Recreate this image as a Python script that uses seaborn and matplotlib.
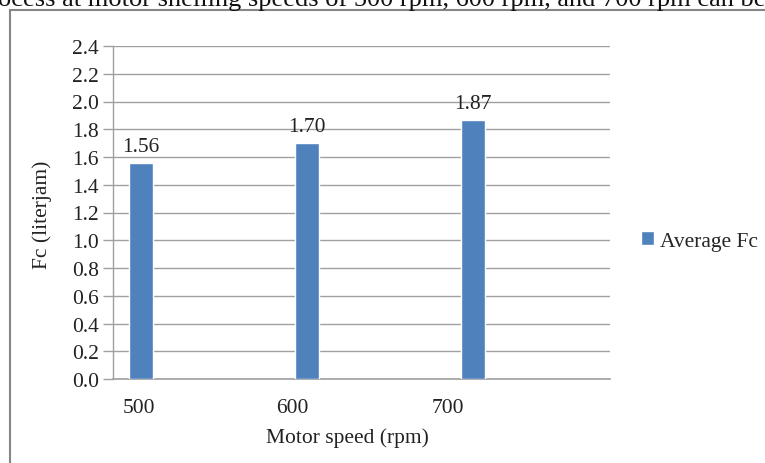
import matplotlib
matplotlib.use("Agg")
import matplotlib.pyplot as plt
import seaborn as sns
import pandas as pd
import numpy as np
from matplotlib.patches import Rectangle

speeds = ["500", "600", "700"]
avg_fc = [1.56, 1.70, 1.87]
labels = ["1.56", "1.70", "1.87"]
yticks = [0.0, 0.2, 0.4, 0.6, 0.8, 1.0, 1.2, 1.4, 1.6, 1.8, 2.0, 2.2, 2.4]

sns.set_theme(style="white")
plt.rcParams['font.family'] = ['Liberation Serif', 'DejaVu Serif']

W, H = 765, 464
fs = 15.5
fig = plt.figure(figsize=(W/100, H/100), dpi=100)
ax = fig.add_axes([113/W, 1-380/H, (610-113)/W, (380-47)/H])

df = pd.DataFrame({"speed": speeds, "fc": avg_fc, "pos": np.arange(len(speeds))})
blue = "#4f81bd"
ax.bar(df["pos"], df["fc"], width=0.14, color=blue, label="Average Fc", zorder=3)

for p, v, t in zip(df["pos"], df["fc"], labels):
    ax.text(p, v + 0.05, t, ha="center", va="bottom", fontsize=fs, color="#222222")

ax.set_xlim(-0.169, 2.825)
ax.set_ylim(0, 2.4)
ax.set_yticks(yticks)
ax.set_yticklabels([f"{v:.1f}" for v in yticks], fontsize=fs, color="#222222")
ax.set_xticks([-0.012, 0.91, 1.85])
ax.set_xticklabels(speeds, fontsize=fs, color="#222222")
ax.tick_params(axis="x", length=0, pad=14)
ax.tick_params(axis="y", length=7, width=1, color="#a0a0a0", pad=3, left=True, direction="out")
ax.grid(axis="y", color="#a0a0a0", linewidth=1, zorder=0)
ax.grid(axis="x", visible=False)
for s in ["top", "right"]:
    ax.spines[s].set_visible(False)
ax.spines["left"].set_color("#a0a0a0")
ax.spines["bottom"].set_color("#a0a0a0")
ax.spines["left"].set_linewidth(1)
ax.spines["bottom"].set_linewidth(1.2)

ax.set_ylabel("Fc (literjam)", fontsize=fs, color="#222222")
ax.yaxis.set_label_coords(-0.123, 0.495)
ax.set_xlabel("Motor speed (rpm)", fontsize=fs, color="#222222")
ax.xaxis.set_label_coords(0.471, -0.144)

leg = ax.legend(loc="center left", bbox_to_anchor=(1.045, 0.414), frameon=False,
                fontsize=fs, handlelength=0.6, handleheight=0.6, handletextpad=0.3,
                borderaxespad=0)

fig.patches.append(Rectangle((10/W, -0.1), 1.2, 1 - 11/H + 0.1, transform=fig.transFigure,
                             fill=False, edgecolor="#868686", linewidth=1.5))
fig.text(-0.003, 1 - 6/H, "ocess at motor shelling speeds of 500 rpm, 600 rpm, and 700 rpm can be",
         fontsize=19.0, va="baseline", ha="left", color="#111111")

fig.savefig("out.png", dpi=100)
